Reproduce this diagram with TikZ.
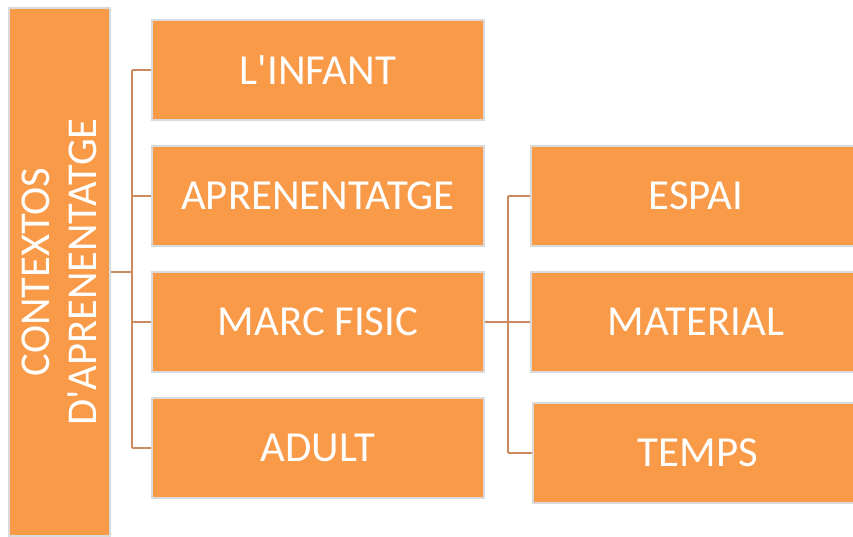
\documentclass[tikz,border=0pt]{standalone}
\usepackage{fontspec}
\setmainfont{Carlito}
\definecolor{boxfill}{HTML}{F99A48}
\definecolor{boxline}{HTML}{DADADA}
\definecolor{connline}{HTML}{CC8A5E}
\begin{document}
\begin{tikzpicture}[x=1pt,y=1pt,
  box/.style={rectangle, fill=boxfill, draw=boxline, line width=1.3pt, text=white,
    font=\fontsize{42.8}{48}\selectfont, inner sep=0pt},
  leftbox/.style={box, minimum width=332pt, minimum height=100pt},
  rightbox/.style={box, minimum width=330pt, minimum height=100pt},
  conn/.style={draw=connline, line width=1.4pt}]
\useasboundingbox (0,0) rectangle (853,536);
\node[box, minimum width=101pt, minimum height=528pt] (main) at (59.5,264) {};
\node[rotate=90, text=white, align=center, inner sep=0pt,
  font=\fontsize{42.5}{46.5}\selectfont] (maintext) at (main.center) {CONTEXTOS\\D\textquotesingle APRENENTATGE};
\node[leftbox] (infant) at (318,466) {L\textquotesingle INFANT};
\node[leftbox] (apren) at (318,340) {APRENENTATGE};
\node[leftbox] (marc) at (318,214) {MARC FISIC};
\node[leftbox] (adult) at (318,88) {ADULT};
\node[rightbox] (espai) at (696,340) {ESPAI};
\node[rightbox] (material) at (696,214) {MATERIAL};
\node[rightbox] (temps) at (698,83) {TEMPS};
\coordinate (sx) at (132,0);
\coordinate (rx) at (508,0);
\draw[conn] (infant.west -| sx) -- (adult.west -| sx);
\draw[conn] (main.east) -- (main.east -| sx);
\foreach \n in {infant,apren,marc,adult} \draw[conn] (\n.west) -- (\n.west -| sx);
\draw[conn] (espai.west -| rx) -- (temps.west -| rx);
\draw[conn] (marc.east) -- (marc.east -| rx);
\foreach \n in {espai,material,temps} \draw[conn] (\n.west) -- (\n.west -| rx);
\end{tikzpicture}
\end{document}
